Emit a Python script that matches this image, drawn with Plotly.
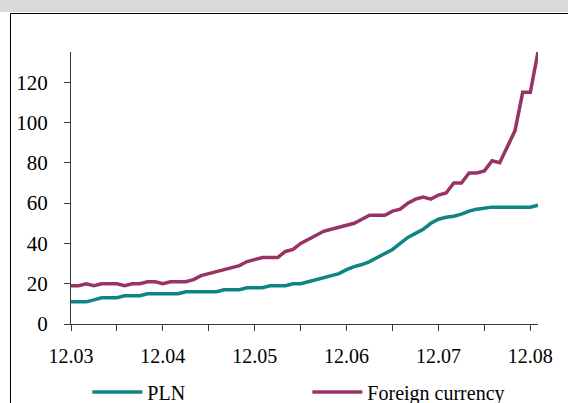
import pandas as pd
import plotly.graph_objects as go

# monthly data, Dec 2003 - Jan 2009
months = pd.date_range('2003-12-01', periods=62, freq='MS').strftime('%m.%y').tolist()

pln = [11, 11, 11, 12, 13, 13, 13, 14, 14, 14, 15, 15, 15, 15, 15, 16, 16, 16, 16, 16,
       17, 17, 17, 18, 18, 18, 19, 19, 19, 20, 20, 21, 22, 23, 24, 25, 27, 28.5, 29.5, 31,
       33, 35, 37, 40, 43, 45, 47, 50, 52, 53, 53.5, 54.5, 56, 57, 57.5, 58, 58, 58, 58, 58,
       58, 59]

foreign = [19, 19, 20, 19, 20, 20, 20, 19, 20, 20, 21, 21, 20, 21, 21, 21, 22, 24, 25, 26,
           27, 28, 29, 31, 32, 33, 33, 33, 36, 37, 40, 42, 44, 46, 47, 48, 49, 50, 52, 54,
           54, 54, 56, 57, 60, 62, 63, 62, 64, 65, 70, 70, 75, 75, 76, 81, 80, 88, 96, 115,
           115, 135]

tick_months = ['12.03', '06.04', '12.04', '06.05', '12.05', '06.06', '12.06',
               '06.07', '12.07', '06.08', '12.08']
tick_text = [m if m.startswith('12') else '' for m in tick_months]
y_ticks = [0, 20, 40, 60, 80, 100, 120]

font = dict(family='Liberation Serif, Times New Roman, serif', size=20, color='black')
yfont = dict(font, size=21)
axis_col = '#3c3c3c'

fig = go.Figure()
fig.add_trace(go.Scatter(x=months, y=pln, mode='lines', name='PLN',
                         line=dict(color='#0e8583', width=3.5)))
fig.add_trace(go.Scatter(x=months, y=foreign, mode='lines', name='Foreign currency',
                         line=dict(color='#993366', width=3.5)))

fig.update_xaxes(type='category', range=[0, 61], tickmode='array', tickvals=tick_months,
                 ticktext=tick_text, ticks='outside', ticklen=6, tickcolor=axis_col,
                 showline=True, linecolor=axis_col, linewidth=1.2, showgrid=False,
                 zeroline=False, tickfont=font, ticklabelstandoff=8)
fig.update_yaxes(range=[0, 135], tickvals=y_ticks, ticks='outside', ticklen=6,
                 tickcolor=axis_col, showline=True, linecolor=axis_col, linewidth=1.2,
                 showgrid=False, zeroline=False, tickfont=yfont, ticklabelstandoff=12)

fig.update_layout(
    width=568, height=403,
    margin=dict(l=71, r=30, t=52, b=79, autoexpand=False),
    paper_bgcolor='white', plot_bgcolor='white',
    font=font,
    showlegend=True,
    legend=dict(orientation='h', x=0.035, xanchor='left', y=-0.25, yanchor='middle',
                entrywidth=155, itemwidth=50, font=font, bgcolor='rgba(0,0,0,0)'),
    shapes=[
        # grey strip at the top (cut-off heading)
        dict(type='rect', xref='paper', yref='paper', x0=-0.2, x1=1.2,
             y0=(324 - 12) / 272, y1=1.25, fillcolor='#d9d9d9', line_width=0, layer='below'),
        # outer frame of the chart box
        dict(type='rect', xref='paper', yref='paper', x0=(10.5 - 71) / 467, x1=1.2,
             y0=-0.35, y1=(324 - 13.5) / 272, line=dict(color='black', width=1),
             fillcolor='rgba(0,0,0,0)', layer='below'),
    ],
)

fig.write_html('out.html', config={'displayModeBar': False},
               post_script="document.body.style.margin='0';"
                           "document.body.style.overflow='hidden';"
                           "document.documentElement.style.overflow='hidden';")
